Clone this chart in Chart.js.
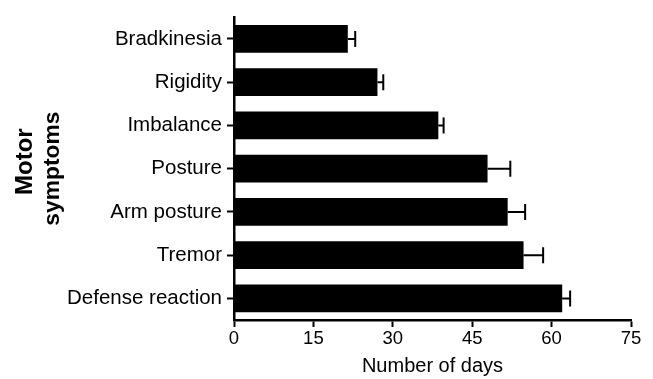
<!DOCTYPE html>
<html>
<head>
<meta charset="utf-8">
<title>Motor symptoms</title>
<script src="https://cdn.jsdelivr.net/npm/chart.js@4.4.1/dist/chart.umd.min.js"></script>
<style>
  html, body { margin: 0; padding: 0; background: #ffffff; }
  #wrap { width: 653px; height: 379px; }
</style>
</head>
<body>
<div id="wrap"><canvas id="chart" width="653" height="379"></canvas></div>
<script>
// Onset of motor symptoms (mean number of days, with SEM)
const symptoms = ['Bradkinesia', 'Rigidity', 'Imbalance', 'Posture', 'Arm posture', 'Tremor', 'Defense reaction'];
const meanDays = [21.5, 27.1, 38.6, 47.9, 51.7, 54.7, 62.0];
const semDays  = [1.4, 1.1, 1.0, 4.3, 3.3, 3.7, 1.5];
const xTicks   = [0, 15, 30, 45, 60, 75];
const yTitleLines = ['Motor', 'symptoms'];

const FONT = '"Liberation Sans", Arial, Helvetica, sans-serif';

// Draws the upper SEM whisker with a cap at the end of each bar
const errorBars = {
  id: 'errorBars',
  afterDatasetsDraw(chart) {
    const { ctx, scales: { x, y } } = chart;
    ctx.save();
    ctx.strokeStyle = '#000';
    ctx.lineWidth = 2;
    meanDays.forEach((v, i) => {
      const yc = y.getPixelForValue(i);
      const x0 = x.getPixelForValue(v);
      const x1 = x.getPixelForValue(v + semDays[i]);
      ctx.beginPath();
      ctx.moveTo(x0, yc);
      ctx.lineTo(x1, yc);
      ctx.moveTo(x1, yc - 8);
      ctx.lineTo(x1, yc + 8);
      ctx.stroke();
    });
    ctx.restore();
  }
};

// Two-line rotated title for the category axis
const yAxisTitle = {
  id: 'yAxisTitle',
  afterDraw(chart) {
    const { ctx, chartArea } = chart;
    const mid = (chartArea.top + chartArea.bottom) / 2;
    const lines = [
      { text: yTitleLines[0], size: 24, baseX: 32, centerY: mid - 7 },
      { text: yTitleLines[1], size: 22.8, baseX: 58.5, centerY: mid }
    ];
    ctx.save();
    ctx.fillStyle = '#000';
    ctx.textAlign = 'center';
    ctx.textBaseline = 'alphabetic';
    lines.forEach(l => {
      ctx.save();
      ctx.translate(l.baseX, l.centerY);
      ctx.rotate(-Math.PI / 2);
      ctx.font = 'bold ' + l.size + 'px ' + FONT;
      ctx.fillText(l.text, 0, 0);
      ctx.restore();
    });
    ctx.restore();
  }
};

new Chart(document.getElementById('chart'), {
  type: 'bar',
  data: {
    labels: symptoms,
    datasets: [{
      data: meanDays,
      backgroundColor: '#000000',
      borderWidth: 0,
      barPercentage: 0.645,
      categoryPercentage: 1.0
    }]
  },
  options: {
    indexAxis: 'y',
    responsive: false,
    animation: false,
    layout: { padding: { left: 0, top: 11, right: 22, bottom: 0 } },
    plugins: { legend: { display: false }, tooltip: { enabled: false } },
    scales: {
      x: {
        type: 'linear',
        min: xTicks[0],
        max: xTicks[xTicks.length - 1],
        afterBuildTicks(scale) { scale.ticks = xTicks.map(v => ({ value: v })); },
        afterFit(scale) { scale.height = 59; },
        border: { display: true, color: '#000', width: 2.5 },
        grid: { display: true, drawOnChartArea: false, drawTicks: true, tickLength: 7, tickWidth: 2, color: '#000' },
        ticks: { color: '#000', padding: 1, font: { family: FONT, size: 18.5 } },
        title: {
          display: true, text: 'Number of days', color: '#000',
          font: { family: FONT, size: 20 }, padding: { top: 0, bottom: 1 }
        }
      },
      y: {
        type: 'category',
        afterFit(scale) { scale.width = 234; },
        border: { display: true, color: '#000', width: 2.5 },
        grid: { display: true, offset: false, drawOnChartArea: false, drawTicks: true, tickLength: 7, tickWidth: 2, color: '#000' },
        ticks: { color: '#000', padding: 5, font: { family: FONT, size: 20.5 } },
        title: { display: false }
      }
    }
  },
  plugins: [errorBars, yAxisTitle]
});
</script>
</body>
</html>
